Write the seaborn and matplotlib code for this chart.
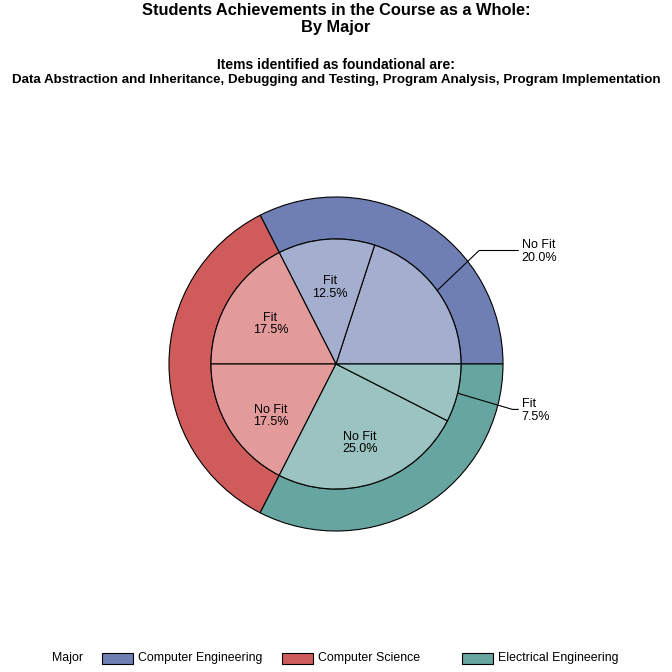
import numpy as np
import pandas as pd
import seaborn as sns
import matplotlib.pyplot as plt
from matplotlib.patches import Rectangle

# ──────────────────────────────────────────────
# Data (inner ring in drawing order, counter-clockwise from 3 o'clock)
# ──────────────────────────────────────────────
majors = ["Computer Engineering", "Computer Science", "Electrical Engineering"]
inner_major = ["Computer Engineering", "Computer Engineering",
               "Computer Science", "Computer Science",
               "Electrical Engineering", "Electrical Engineering"]
inner_status = ["No Fit", "Fit", "Fit", "No Fit", "No Fit", "Fit"]
inner_pct = [20.0, 12.5, 17.5, 17.5, 25.0, 7.5]

# label placement (layout only)
label_outside = [True, False, False, False, False, True]
label_nudge_px = [0, 0, 0, -12, -6, 0]

df = pd.DataFrame({"major": inner_major, "status": inner_status, "pct": inner_pct})
totals = df.groupby("major", sort=False)["pct"].sum().reindex(majors)

outer_colors = ["#6F7EB3", "#D05B5B", "#66A5A0"]
inner_colors = {"Computer Engineering": "#A4AFD0",
                "Computer Science": "#E39A9A",
                "Electrical Engineering": "#9AC3C1"}

sns.set_theme(style="white")
plt.rcParams["font.family"] = ["Liberation Sans", "DejaVu Sans"]
plt.rcParams["text.color"] = "black"

fig = plt.figure(figsize=(6.72, 6.72), dpi=100)
W = 672
cx, cy, R = 336, 364, 167
ax = fig.add_axes([(cx - R) / W, (W - cy - R) / W, 2 * R / W, 2 * R / W])

r_in = 125 / 167
edge = dict(edgecolor="black", linewidth=0.8)

# outer ring by major
ax.pie(totals.values, radius=1, startangle=0, counterclock=True,
       colors=outer_colors, wedgeprops=dict(width=1 - r_in, **edge))

# inner pie by fit status
ax.pie(df["pct"], radius=r_in, startangle=0, counterclock=True,
       colors=[inner_colors[m] for m in df["major"]], wedgeprops=edge)

ax.set_xlim(-1, 1)
ax.set_ylim(-1, 1)
ax.set_aspect("equal")
ax.axis("off")

# labels
fs = 9
ends = np.cumsum(df["pct"].values) / 100 * 360
starts = ends - df["pct"].values / 100 * 360
for s, e, st, p, out, nd in zip(starts, ends, df["status"], df["pct"],
                                label_outside, label_nudge_px):
    mid_deg = (s + e) / 2
    mid = np.deg2rad(mid_deg)
    txt = f"{st}\n{p:.1f}%"
    if out:
        a = np.deg2rad(mid_deg * 1.06 if mid_deg < 180 else (mid_deg - 360) * 1.06)
        x0, y0 = r_in * np.cos(mid), r_in * np.sin(mid)
        x1, y1 = 1.09 * np.cos(a), 1.10 * np.sin(a)
        ax.plot([x0, x1, 1.092], [y0, y1, y1], color="black", lw=0.8, clip_on=False)
        ax.text(1.112, y1 - 1 / R, txt, ha="left", va="center", fontsize=fs,
                linespacing=1.05, clip_on=False)
    else:
        ax.text(0.46 * np.cos(mid), 0.46 * np.sin(mid) + nd / R, txt, ha="center",
                va="center", fontsize=fs, linespacing=1.05)

# titles
fig.text(0.5, 1 - 3 / W, "Students Achievements in the Course as a Whole:\nBy Major",
         ha="center", va="top", fontsize=11.8, fontweight="bold", linespacing=1.2)
fig.text(0.5, 1 - 58 / W, "Items identified as foundational are:",
         ha="center", va="top", fontsize=10, fontweight="bold")
fig.text(0.5, 1 - 74 / W,
         "Data Abstraction and Inheritance, Debugging and Testing, Program Analysis, Program Implementation",
         ha="center", va="top", fontsize=9.6, fontweight="bold")

# legend
ly = 1 - 658 / W
fig.text(52 / W, ly, "Major", ha="left", va="center", fontsize=8.9)
for i, (m, c) in enumerate(zip(majors, outer_colors)):
    bx = (102 + 180 * i) / W
    fig.patches.append(Rectangle((bx, ly - 5.5 / W), 31 / W, 11 / W,
                                 transform=fig.transFigure, facecolor=c,
                                 edgecolor="black", linewidth=0.8))
    fig.text(bx + 36 / W, ly, m, ha="left", va="center", fontsize=8.9)

plt.savefig("out.png", dpi=100)
